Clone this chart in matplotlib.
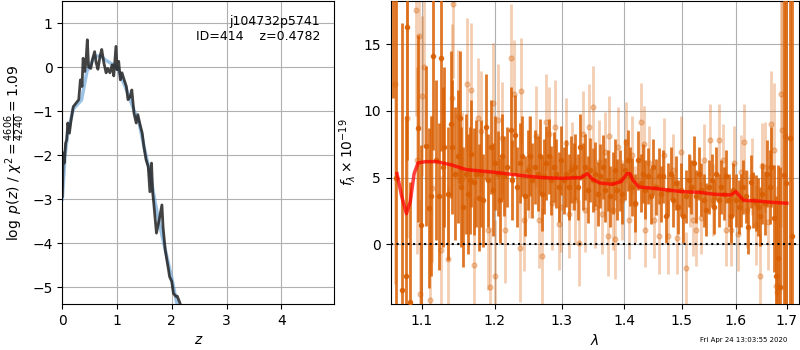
import matplotlib
matplotlib.use('Agg')
import matplotlib.pyplot as plt
from matplotlib.ticker import NullLocator, NullFormatter

# p(z) -- curva ruidosa (negra) y suavizada (azul)
z_grid = [0.0, 0.018, 0.036, 0.06, 0.08, 0.10, 0.13, 0.16, 0.20, 0.25, 0.30, 0.33, 0.36,
          0.38, 0.41, 0.43, 0.457, 0.48, 0.52, 0.55, 0.59, 0.62, 0.65, 0.69, 0.72, 0.76,
          0.80, 0.83, 0.87, 0.91, 0.94, 0.98, 1.00, 1.03, 1.06, 1.09, 1.13, 1.17, 1.20,
          1.24, 1.27, 1.31, 1.35, 1.38, 1.42, 1.46, 1.49, 1.53, 1.57, 1.60, 1.63, 1.65,
          1.67, 1.72, 1.77, 1.82, 1.84, 1.88, 1.94, 1.96, 2.00, 2.03, 2.08, 2.10, 2.15, 2.20]
log_pz = [-2.94, -1.95, -2.18, -1.73, -1.65, -1.27, -1.5, -1.2, -0.9, -0.82, -0.74, -0.29, -0.44,
          0.2, -0.1, 0.09, 0.62, 0.0, -0.03, 0.17, 0.35, 0.09, -0.05, 0.25, 0.4, 0.09,
          -0.13, -0.03, -0.13, 0.05, -0.2, 0.47, -0.06, 0.13, -0.29, -0.13, -0.29, -0.44, -0.74,
          -0.67, -0.52, -1.05, -1.27, -1.08, -1.31, -1.5, -1.8, -2.1, -2.26, -2.83, -2.18, -2.83,
          -3.08, -3.77, -3.47, -3.13, -3.62, -4.15, -4.6, -4.76, -4.87, -5.14, -5.21, -5.2, -5.36, -5.6]

z_smooth = [0.0, 0.05, 0.1, 0.2, 0.35, 0.45, 0.6, 0.7, 0.8, 1.0, 1.1, 1.2, 1.3, 1.4, 1.5,
            1.6, 1.7, 1.8, 1.9, 2.0, 2.1, 2.2]
log_pz_smooth = [-3.0, -2.0, -1.5, -0.95, -0.75, -0.1, 0.25, 0.25, 0.15, 0.0, -0.3, -0.6,
                 -0.95, -1.25, -1.85, -2.4, -3.1, -3.7, -4.25, -4.8, -5.4, -6.0]

# espectro 1 (oscuro)
wave_a = [1.0635, 1.067, 1.074, 1.079, 1.081, 1.085, 1.095, 1.099, 1.105, 1.109, 1.112, 1.115,
          1.119, 1.123, 1.126, 1.128, 1.130, 1.135, 1.139, 1.141, 1.144, 1.149, 1.151, 1.153,
          1.156, 1.159, 1.163, 1.165, 1.167, 1.171, 1.174, 1.178, 1.181, 1.184, 1.187, 1.191,
          1.194, 1.198, 1.200, 1.204, 1.208, 1.210, 1.214, 1.218, 1.223, 1.225, 1.229, 1.233,
          1.236, 1.240, 1.244, 1.248, 1.251, 1.255, 1.259, 1.263, 1.266, 1.269, 1.273, 1.276,
          1.280, 1.284, 1.288, 1.291, 1.295, 1.299, 1.303, 1.306, 1.311, 1.315, 1.319, 1.321,
          1.326, 1.329, 1.333, 1.337, 1.341, 1.345, 1.349, 1.353, 1.357, 1.361, 1.365, 1.369,
          1.373, 1.377, 1.381, 1.385, 1.389, 1.393, 1.397, 1.401, 1.406, 1.410, 1.414, 1.419,
          1.424, 1.428, 1.432, 1.436, 1.441, 1.445, 1.449, 1.454, 1.459, 1.463, 1.467, 1.472,
          1.476, 1.481, 1.485, 1.489, 1.494, 1.498, 1.502, 1.507, 1.512, 1.517, 1.521, 1.526,
          1.531, 1.535, 1.540, 1.544, 1.549, 1.554, 1.558, 1.563, 1.568, 1.572, 1.577, 1.581,
          1.586, 1.591, 1.595, 1.600, 1.605, 1.609, 1.614, 1.619, 1.624, 1.628, 1.633, 1.638,
          1.643, 1.647, 1.651, 1.656, 1.661, 1.666, 1.669, 1.674, 1.678, 1.682, 1.686, 1.694,
          1.699, 1.707, 1.710]
flux_a = [30.0, 5.0, -3.4, -2.4, 16.3, -4.3, 8.7, 1.45, 7.4, 2.7, 3.6, 14.1,
          6.3, 3.6, 14.0, 5.8, 7.3, 3.8, 9.0, 7.3, 5.3, 6.6, 9.5, 4.3,
          2.8, 5.3, 3.8, 4.8, 6.8, 4.7, 5.3, 3.5, 5.3, 3.3, 8.8, 4.8,
          7.3, 4.1, 6.1, 5.3, 3.3, 6.6, 5.1, 5.8, 8.6, 4.8, 8.2, 4.3,
          6.1, 6.6, 3.6, 5.6, 6.6, 4.8, 5.8, 5.3, 6.6, 3.8, 5.1, 6.1,
          6.6, 4.8, 5.8, 5.3, 4.3, 6.3, 4.8, 5.3, 4.3, 5.6, 5.1, 5.8,
          4.3, 7.3, 5.1, 5.8, 4.1, 5.6, 4.8, 5.3, 3.8, 5.1, 5.8, 4.1,
          4.8, 3.6, 4.6, 5.6, 4.1, 4.8, 3.8, 5.6, 6.3, 5.1, 4.3, 3.1,
          6.3, 4.6, 5.3, 4.1, 5.1, 3.6, 5.8, 4.3, 5.1, 3.8, 5.1, 2.1,
          4.1, 5.3, 3.3, 4.6, 2.8, 4.1, 2.1, 3.6, 4.8, 4.3, 6.1, 3.6,
          5.3, 4.1, 3.3, 2.6, 4.3, 4.8, 2.8, 5.3, 3.3, 4.3, 3.8, 5.1,
          3.3, 2.1, 4.1, 3.3, 2.8, 3.3, 4.3, 3.6, 1.3, 4.7, 3.3, 3.1,
          2.8, 2.1, 3.8, 3.1, 5.3, 4.3, 5.8, 1.95, -2.4, -1.05, -3.2, 5.2,
          4.6, 8.0, 0.6]
err_a = [19, 30, 20, 12, 10, 9, 7, 6, 6, 6, 6, 7,
         6, 5.5, 7, 6, 6, 5, 5.5, 5, 5, 5, 5, 4.5,
         4.5, 4.5, 4.5, 4, 4, 4, 4, 4, 4, 3.5, 4, 3.5,
         3.5, 3.5, 3.5, 3.2, 3.2, 3.2, 3, 3, 3.2, 3, 3, 3,
         3, 3, 3, 3, 3, 2.8, 2.8, 2.8, 2.8, 2.8, 2.8, 2.8,
         2.8, 2.6, 2.6, 2.6, 2.6, 2.6, 2.5, 2.5, 2.5, 2.5, 2.5, 2.5,
         2.5, 2.5, 2.5, 2.5, 2.5, 2.4, 2.4, 2.4, 2.4, 2.4, 2.4, 2.4,
         2.3, 2.3, 2.3, 2.3, 2.3, 2.3, 2.3, 2.3, 2.3, 2.2, 2.2, 2.2,
         2.2, 2.2, 2.2, 2.2, 2.1, 2.1, 2.1, 2.1, 2.1, 2.1, 2.0, 2.0,
         2.0, 2.0, 2.0, 2.0, 2.0, 2.0, 2.0, 2.0, 2.0, 2.0, 2.0, 2.0,
         2.0, 2.0, 2.0, 2.0, 2.0, 2.0, 2.0, 2.0, 2.0, 2.0, 2.0, 2.0,
         2.0, 2.0, 2.0, 2.0, 2.0, 2.0, 2.0, 2.0, 2.0, 2.0, 2.1, 2.1,
         2.2, 2.2, 2.3, 2.4, 2.5, 2.8, 3.0, 4, 6, 7, 9, 20,
         20, 25, 25]

# espectro 2 (claro)
wave_b = [1.066, 1.081, 1.093, 1.094, 1.096, 1.098, 1.100, 1.103, 1.111, 1.114, 1.126, 1.135,
          1.140, 1.142, 1.149, 1.154, 1.161, 1.167, 1.171, 1.176, 1.181, 1.191, 1.193, 1.198,
          1.201, 1.205, 1.210, 1.215, 1.224, 1.228, 1.237, 1.238, 1.243, 1.250, 1.260, 1.265,
          1.270, 1.276, 1.280, 1.285, 1.290, 1.295, 1.299, 1.306, 1.311, 1.316, 1.321, 1.327,
          1.333, 1.337, 1.343, 1.349, 1.353, 1.359, 1.364, 1.369, 1.373, 1.376, 1.381, 1.385,
          1.390, 1.396, 1.404, 1.408, 1.413, 1.419, 1.428, 1.434, 1.436, 1.442, 1.451, 1.459,
          1.468, 1.476, 1.484, 1.492, 1.498, 1.507, 1.514, 1.520, 1.526, 1.535, 1.541, 1.551,
          1.557, 1.568, 1.575, 1.581, 1.591, 1.597, 1.603, 1.609, 1.616, 1.622, 1.631, 1.638,
          1.647, 1.651, 1.656, 1.663, 1.669, 1.675, 1.678, 1.681, 1.689, 1.691, 1.697]
flux_b = [12.0, 9.45, 17.6, 6.3, 15.6, -3.7, 11.1, 13.3, -4.2, 4.2, -0.4, -1.1,
          11.0, 18.0, 9.6, 4.9, 12.0, 11.6, -1.55, 9.5, 8.5, 1.1, -3.2, 10.6,
          -2.4, 9.3, 8.0, 1.1, 14.0, 11.3, -0.3, 11.5, 1.8, 5.8, 8.1, 1.8,
          -0.9, 9.2, 8.3, 3.1, 8.8, 1.5, 2.8, 7.6, 2.3, 5.9, 3.3, 0.1,
          8.3, 2.6, 8.8, 10.3, 2.8, 6.2, 2.3, 6.9, 0.6, 8.1, 2.6, 0.4,
          7.3, 3.3, 7.7, 1.8, 6.7, 3.0, 9.2, 7.5, 1.1, 6.1, 1.8, 0.6,
          6.7, 0.6, 5.6, 0.45, 6.9, -1.8, 4.0, 1.8, 1.1, 1.95, 6.3, 7.8,
          3.3, 7.8, 6.3, 1.1, 1.1, 6.1, 0.8, 5.4, 7.7, 2.6, 5.1, 1.45,
          -2.4, 5.9, 5.8, 1.7, 9.0, 7.1, -3.1, -3.6, 11.3, 8.6, 8.1]
err_b = [15, 9, 8, 7, 7, 7, 6, 6, 6, 5.5, 5.5, 5.5,
         5.5, 5.5, 5, 5, 5, 5, 5, 4.5, 4.5, 4.5, 4.5, 4.5,
         4.2, 4.2, 4.2, 4, 4, 4, 4, 4, 3.8, 3.8, 3.8, 3.6,
         3.6, 3.6, 3.5, 3.5, 3.5, 3.4, 3.4, 3.4, 3.3, 3.3, 3.3, 3.2,
         3.2, 3.2, 3.2, 3.1, 3.1, 3.1, 3.0, 3.0, 3.0, 3.0, 3.0, 3.0,
         3.0, 3.0, 3.0, 2.9, 2.9, 2.9, 2.9, 2.9, 2.8, 2.8, 2.8, 2.8,
         2.8, 2.8, 2.7, 2.7, 2.7, 2.7, 2.7, 2.7, 2.7, 2.7, 2.7, 2.7,
         2.7, 2.7, 2.7, 2.7, 2.7, 2.8, 2.8, 2.8, 2.8, 2.9, 2.9, 3.0,
         3.2, 3.2, 3.4, 3.6, 4.0, 5.0, 6.0, 8.0, 10, 12, 14]

# modelo
wave_model = [1.068, 1.074, 1.080, 1.085, 1.090, 1.095, 1.105, 1.12, 1.14, 1.16, 1.20, 1.24,
              1.27, 1.30, 1.33, 1.34, 1.348, 1.36, 1.38, 1.395, 1.405, 1.41, 1.415, 1.425,
              1.45, 1.47, 1.50, 1.53, 1.56, 1.59, 1.60, 1.605, 1.615, 1.64, 1.67, 1.70]
flux_model = [5.3, 3.6, 2.3, 3.2, 5.3, 6.1, 6.2, 6.2, 5.95, 5.6, 5.4, 5.15,
              5.0, 4.95, 5.0, 5.3, 4.9, 4.6, 4.5, 4.7, 5.3, 5.3, 4.8, 4.3,
              4.2, 4.1, 3.95, 3.9, 3.75, 3.7, 3.95, 3.7, 3.3, 3.25, 3.15, 3.08]

lam_ticks = [1.1, 1.2, 1.3, 1.4, 1.5, 1.6, 1.7]

dark = '#d95f02'

fig = plt.figure(figsize=(8, 3.5), dpi=100)

# panel izquierdo: p(z)
ax1 = fig.add_axes([0.0779, 0.1314, 0.34, 0.8657])
ax1.plot(z_smooth, log_pz_smooth, color='#5b9bd5', alpha=0.6, lw=2.5)
ax1.plot(z_grid, log_pz, color='#222222', alpha=0.85, lw=2)
ax1.set_xlim(0, 4.97)
ax1.set_ylim(-5.38, 1.5)
ax1.set_xticks([0, 1, 2, 3, 4])
ax1.set_yticks([-5, -4, -3, -2, -1, 0, 1])
ax1.grid(True)
ax1.set_xlabel(r'$z$')
ax1.set_ylabel(r'$\log\ p(z)$ / $\chi^2=\frac{4606}{4240}=1.09$')
ax1.text(0.947, 0.955, 'j104732p5741\nID=414    z=0.4782', transform=ax1.transAxes,
         ha='right', va='top', fontsize=9)

# panel derecho: espectro
ax2 = fig.add_axes([0.4884, 0.1314, 0.5104, 0.8657])
ax2.errorbar(wave_b, flux_b, yerr=err_b, fmt='o', color=dark, alpha=0.3,
             ms=3.5, elinewidth=2, capsize=0, zorder=2)
ax2.errorbar(wave_a, flux_a, yerr=err_a, fmt='o', color=dark, alpha=0.85,
             ms=3, elinewidth=2, capsize=0, zorder=3)
ax2.plot(wave_model, flux_model, color='red', alpha=0.75, lw=2.5, zorder=4)
ax2.axhline(0, color='k', ls=':', lw=1.5, zorder=5)
ax2.set_xscale('log')
ax2.set_xlim(1.060, 1.725)
ax2.set_ylim(-4.48, 18.25)
ax2.set_xticks(lam_ticks)
ax2.set_xticklabels([str(t) for t in lam_ticks])
ax2.xaxis.set_minor_locator(NullLocator())
ax2.xaxis.set_minor_formatter(NullFormatter())
ax2.set_yticks([0, 5, 10, 15])
ax2.grid(True)
ax2.set_xlabel(r'$\lambda$')
ax2.set_ylabel(r'$f_\lambda\times10^{-19}$')

fig.text(0.93, 0.028, 'Fri Apr 24 13:03:55 2020', ha='center', va='center', fontsize=5)

fig.savefig('out.png', dpi=100)
